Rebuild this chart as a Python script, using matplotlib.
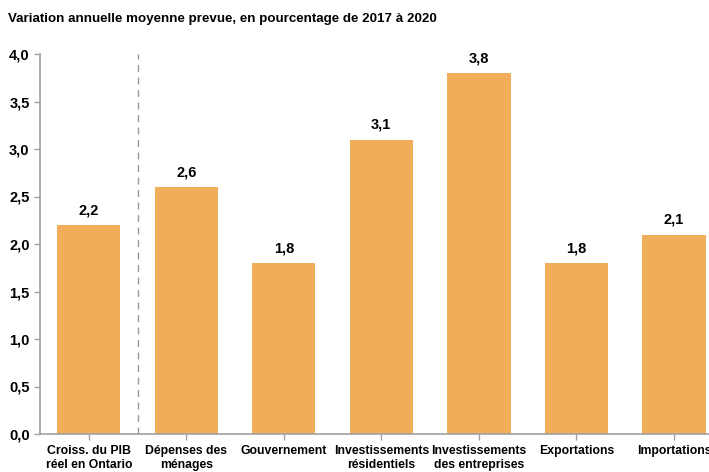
import matplotlib.pyplot as plt

categories = ["Croiss. du PIB\nréel en Ontario", "Dépenses des\nménages", "Gouvernement",
              "Investissements\nrésidentiels", "Investissements\ndes entreprises",
              "Exportations", "Importations"]
values = [2.2, 2.6, 1.8, 3.1, 3.8, 1.8, 2.1]
yticks = [0.0, 0.5, 1.0, 1.5, 2.0, 2.5, 3.0, 3.5, 4.0]

plt.rcParams["font.family"] = ["Liberation Sans", "DejaVu Sans"]
plt.rcParams["font.weight"] = "bold"

fig = plt.figure(figsize=(7.09, 4.72), dpi=100)
ax = fig.add_axes([40 / 709, 38 / 472, 669 / 709, 380 / 472])

x = range(len(values))
ax.bar(x, values, width=0.65, color="#F0AE5A")
for i, v in zip(x, values):
    ax.text(i, v + 0.08, f"{v:.1f}".replace(".", ","), ha="center", va="bottom",
            fontsize=10.5, fontweight="bold")

ax.axvline(0.5, color="#999999", linestyle=(0, (5, 4)), linewidth=1)

ax.set_xlim(-0.5, 6.36)
ax.set_ylim(0, 4.0)
ax.set_yticks(yticks)
ax.set_yticklabels([f"{t:.1f}".replace(".", ",") for t in yticks], fontsize=10.5, fontweight="bold")
ax.set_xticks(list(x))
ax.set_xticklabels(categories, fontsize=8.8, fontweight="bold", linespacing=1.25)

for s in ["top", "right"]:
    ax.spines[s].set_visible(False)
for s in ["left", "bottom"]:
    ax.spines[s].set_color("#a0a0a0")
    ax.spines[s].set_linewidth(1.2)
ax.tick_params(axis="both", color="#a0a0a0", length=4, width=1)
ax.tick_params(axis="x", pad=4)

fig.text(8 / 709, 1 - 19 / 472, "Variation annuelle moyenne prevue, en pourcentage de 2017 à 2020",
         fontsize=9.6, fontweight="bold", va="center", ha="left")

fig.savefig("out.png", dpi=100)
